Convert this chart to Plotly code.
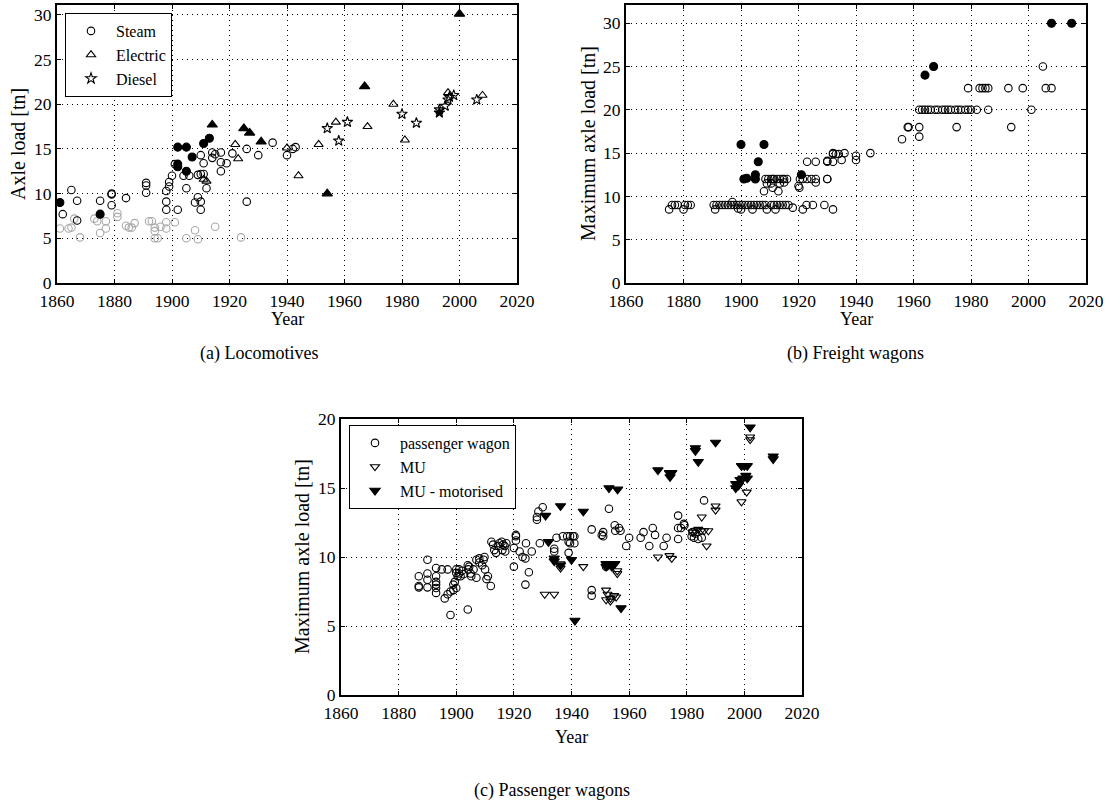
import plotly.graph_objects as go

# ---------------- (a) Locomotives ----------------
steam_year = [1862, 1865, 1867, 1867, 1875, 1879, 1879, 1879, 1884, 1891, 1891, 1891,
              1898, 1898, 1898, 1899, 1899, 1900, 1901, 1902, 1904, 1905, 1906, 1908,
              1909, 1910, 1910, 1909, 1910, 1911, 1910, 1911, 1912, 1914, 1914, 1915,
              1917, 1917, 1917, 1919, 1921, 1926, 1926, 1930, 1935, 1940, 1942, 1943]
steam_load = [7.7, 10.4, 9.2, 7.0, 9.2, 10.0, 9.9, 8.7, 9.5, 11.2, 10.9, 10.1,
              10.3, 9.1, 8.2, 10.8, 11.3, 12.0, 13.3, 8.2, 12.0, 10.6, 12.0, 9.0,
              9.6, 9.1, 8.2, 12.1, 12.2, 12.2, 14.3, 13.4, 10.6, 14.0, 14.6, 14.4,
              14.6, 13.5, 12.5, 13.4, 14.5, 15.0, 9.1, 14.3, 15.7, 14.3, 15.0, 15.2]

steam_grey_year = [1861, 1864, 1865, 1866, 1868, 1873, 1874, 1875, 1877, 1877, 1881, 1881,
                   1884, 1885, 1886, 1887, 1892, 1893, 1894, 1894, 1894, 1895, 1896, 1898,
                   1898, 1901, 1905, 1908, 1909, 1915, 1924]
steam_grey_load = [6.1, 6.1, 6.2, 7.2, 5.1, 7.2, 6.9, 5.6, 6.9, 6.1, 7.8, 7.4,
                   6.4, 6.2, 6.2, 6.7, 6.9, 6.9, 6.2, 5.8, 5.0, 5.0, 6.3, 6.8,
                   6.1, 6.8, 5.0, 5.9, 4.9, 6.3, 5.1]

steam_solid_year = [1861, 1875, 1902, 1902, 1902, 1905, 1907, 1905, 1911, 1913]
steam_solid_load = [9.0, 7.7, 15.2, 13.3, 13.0, 15.2, 14.1, 12.5, 15.6, 16.2]

electric_year = [1911, 1912, 1922, 1923, 1940, 1944, 1951, 1957, 1968, 1977, 1981, 1996, 2008]
electric_load = [11.6, 11.4, 15.5, 13.9, 15.1, 12.0, 15.5, 18.0, 17.5, 20.0, 16.0, 21.3, 21.0]

electric_solid_year = [1914, 1925, 1927, 1931, 1954, 1967, 2000]
electric_solid_load = [17.7, 17.3, 16.8, 15.8, 10.0, 22.0, 30.1]

diesel_year = [1954, 1958, 1961, 1980, 1985, 1993, 1995, 1996, 1996.5, 1998, 2006]
diesel_load = [17.3, 15.9, 18.0, 18.9, 17.9, 19.4, 19.8, 20.5, 20.8, 21.0, 20.5]

diesel_solid_year = [1993]
diesel_solid_load = [19.05]

# ---------------- (b) Freight wagons ----------------
freight_year = [
    1876, 1877, 1878, 1880.5, 1881.5, 1882.5, 1890.5, 1891.5, 1892.5, 1893.5, 1894.5,
    1895.5, 1896.5, 1897.5, 1898.5, 1899.5, 1900.5, 1901.5, 1902.5, 1903.5, 1904.5,
    1905.5, 1906.5, 1907.5, 1908.5, 1910.5, 1911.5, 1912.5, 1913.5, 1914.5, 1915.5,
    1916.5, 1922.8, 1925, 1929,
    1875, 1880, 1891, 1899, 1900, 1904, 1909, 1912, 1921.5, 1932, 1897, 1918,
    1908.5, 1909.5, 1910.5, 1911, 1911.5, 1912.5, 1913.5, 1914.5, 1915, 1916,
    1920.5, 1921.5, 1923, 1924.5, 1926, 1930,
    1909, 1910.5, 1913.5, 1915, 1926, 1908, 1911, 1913, 1920, 1920.3,
    1923, 1926, 1930, 1930, 1932, 1932, 1932, 1933, 1934, 1935, 1936, 1940, 1940, 1945,
    1930,
    1956, 1958, 1958.3, 1962, 1962,
    1962, 1963, 1964, 1965, 1966, 1967.5, 1968.5, 1970, 1971, 1972, 1973, 1974.5,
    1975.5, 1976.5, 1978, 1979, 1980, 1982, 1986, 2001,
    1975, 1994,
    1979, 1983, 1984, 1985, 1986, 1993, 1998, 2006, 2008, 2005]
freight_load = [
    9.0, 9.0, 9.0, 9.0, 9.0, 9.0, 9.0, 9.0, 9.0, 9.0, 9.0,
    9.0, 9.0, 9.0, 9.0, 9.0, 9.0, 9.0, 9.0, 9.0, 9.0,
    9.0, 9.0, 9.0, 9.0, 9.0, 9.0, 9.0, 9.0, 9.0, 9.0,
    9.0, 9.0, 9.0, 9.0,
    8.5, 8.5, 8.5, 8.6, 8.5, 8.5, 8.5, 8.5, 8.5, 8.5, 9.35, 8.7,
    12.0, 12.0, 12.0, 12.0, 12.0, 12.0, 12.0, 12.0, 12.0, 12.0,
    12.0, 12.0, 12.0, 12.0, 12.0, 12.0,
    11.5, 11.5, 11.5, 11.6, 11.6, 10.6, 11.0, 10.6, 11.2, 11.0,
    14.0, 14.0, 14.1, 14.0, 15.0, 14.9, 14.0, 14.9, 14.9, 14.2, 15.0, 14.7, 14.2, 15.0,
    12.0,
    16.6, 18.0, 18.0, 18.0, 16.9,
    20.0, 20.0, 20.0, 20.0, 20.0, 20.0, 20.0, 20.0, 20.0, 20.0, 20.0, 20.0,
    20.0, 20.0, 20.0, 20.0, 20.0, 20.0, 20.0, 20.0,
    18.0, 18.0,
    22.5, 22.5, 22.5, 22.5, 22.5, 22.5, 22.5, 22.5, 22.5, 25.0]

freight_solid_year = [1900, 1908, 1906, 1901, 1902, 1905, 1905, 1921, 1964, 1967, 2008, 2015]
freight_solid_load = [16.0, 16.0, 14.0, 12.0, 12.1, 12.5, 12.0, 12.5, 24.0, 25.0, 30.0, 30.0]

# ---------------- (c) Passenger wagons ----------------
pw_year = [
    1887, 1887, 1887, 1890, 1890, 1890, 1890, 1893, 1893, 1893, 1893, 1893, 1893,
    1895, 1897, 1896, 1897, 1898, 1899, 1900, 1898, 1899, 1899.5, 1900, 1900, 1900.5,
    1901, 1901, 1901.5, 1902, 1902.5, 1904, 1904, 1904.2, 1904.5, 1905, 1905.2, 1906,
    1907, 1908, 1908, 1909, 1909.5, 1909.8, 1910, 1907, 1911, 1910.5, 1912,
    1912.2, 1912.8, 1913.2, 1913.8, 1914.6, 1915, 1915.8, 1916, 1916.3, 1916.8, 1917,
    1917.4, 1920, 1920, 1920.7, 1920.7, 1920.7, 1922, 1923, 1924, 1924.2, 1925.2, 1924,
    1926.2, 1928, 1928, 1928.5, 1930, 1929, 1934.8, 1934, 1934, 1937, 1938.5, 1939.5,
    1940.5, 1941, 1939, 1939.5, 1941, 1939, 1947, 1951, 1950.5, 1951, 1952, 1947, 1947,
    1953, 1955, 1955.2, 1956.5, 1957, 1959, 1960, 1964, 1965, 1967, 1968.2, 1969, 1972,
    1973, 1977, 1977, 1977, 1978, 1979, 1979.2, 1981.7, 1982, 1982.5, 1983, 1984, 1986,
    1985.2]
pw_load = [
    8.6, 7.9, 7.8, 9.8, 8.8, 8.35, 7.8, 9.2, 8.6, 8.2, 8.0, 7.75, 7.4,
    9.1, 9.1, 7.0, 7.3, 7.5, 7.6, 7.75, 5.8, 8.0, 8.2, 9.1, 8.85, 8.6,
    9.1, 8.8, 8.6, 9.0, 8.75, 6.2, 9.4, 9.1, 9.3, 8.8, 8.6, 9.1,
    9.8, 9.9, 9.6, 9.4, 9.8, 10.0, 9.1, 8.5, 8.6, 8.4, 7.9,
    11.1, 10.9, 10.5, 10.3, 10.8, 11.0, 11.1, 10.5, 10.9, 10.8, 10.4,
    11.0, 10.65, 9.3, 11.6, 11.5, 11.2, 10.4, 10.0, 9.9, 11.0, 8.9, 8.0,
    10.4, 12.9, 12.7, 13.3, 13.6, 11.0, 11.4, 10.6, 10.4, 11.5, 11.5, 11.5,
    11.5, 11.5, 11.1, 11.0, 11.0, 10.3, 12.0, 11.8, 11.6, 11.5, 9.3, 7.6, 7.2,
    13.5, 12.3, 11.9, 12.1, 11.9, 10.8, 11.4, 11.4, 11.8, 10.8, 12.1, 11.6, 10.8,
    11.4, 13.0, 11.3, 12.1, 12.1, 12.4, 12.3, 11.5, 11.8, 11.4, 11.7, 11.3, 14.1,
    11.4]

mu_year = [1930.7, 1934, 1936.2, 1936.2, 1944.1, 1952, 1952.5, 1953.5, 1953.5, 1954.8,
           1955.5, 1952, 1955.9, 1955.9, 1970, 1974, 1974.8, 1982, 1983, 1984, 1985,
           1986, 1987.5, 1986.9, 1985.2, 1990, 1990, 1999, 2000.8, 2002, 2002]
mu_load = [7.3, 7.3, 9.5, 9.2, 9.3, 7.6, 7.3, 7.0, 6.8, 7.2,
           7.1, 6.9, 9.0, 8.8, 10.0, 10.1, 9.9, 11.8, 11.9, 12.0, 11.9,
           11.9, 11.9, 10.8, 12.9, 13.7, 13.4, 14.0, 14.7, 18.7, 18.5]

mu_motor_year = [1931, 1932, 1934, 1934, 1936.2, 1936.2, 1940, 1941.2, 1944.1, 1953,
                 1956, 1952, 1953, 1955, 1952, 1954, 1957.2, 1970, 1974, 1974.2,
                 1974.8, 1983, 1983, 1984, 1990, 1997, 1997, 1998, 1998.5, 1999,
                 1999.5, 2000, 2000.5, 2001, 2001, 2002, 2010, 2010]
mu_motor_load = [13.0, 11.1, 9.9, 9.7, 13.7, 9.4, 9.8, 5.4, 13.3, 15.0,
                 14.9, 9.5, 9.5, 9.5, 9.3, 9.3, 6.3, 16.3, 16.1, 15.8,
                 16.1, 17.9, 17.7, 16.9, 18.3, 15.0, 15.3, 15.2, 15.6, 16.6,
                 15.7, 16.6, 15.9, 15.7, 16.6, 19.4, 17.3, 17.1]

YEAR_TICKS = [1860, 1880, 1900, 1920, 1940, 1960, 1980, 2000, 2020]

SERIF = "Liberation Serif"
W, H = 1112, 807


def mk(x, y, xa, ya, symbol, size, color="black", fill=None, name=None,
       legend=None, lw=1.1):
    marker = dict(symbol=symbol, size=size, color=fill if fill else color,
                  line=dict(color=color, width=lw))
    return go.Scatter(x=x, y=y, mode="markers", marker=marker, xaxis=xa, yaxis=ya,
                      name=name or "", showlegend=name is not None,
                      legend=legend or "legend", hoverinfo="skip")


traces = [
    # (a)
    mk(steam_grey_year, steam_grey_load, "x", "y", "circle-open", 7.5, color="#a8a8a8"),
    mk(steam_year, steam_load, "x", "y", "circle-open", 7.5, name="Steam"),
    mk(electric_year, electric_load, "x", "y", "triangle-up-open", 8, name="Electric"),
    mk(diesel_year, diesel_load, "x", "y", "star-open", 8, name="Diesel"),
    mk(steam_solid_year, steam_solid_load, "x", "y", "circle", 8),
    mk(electric_solid_year, electric_solid_load, "x", "y", "triangle-up", 9),
    mk(diesel_solid_year, diesel_solid_load, "x", "y", "star", 8),
    # (b)
    mk(freight_year, freight_load, "x2", "y2", "circle-open", 7.5),
    mk(freight_solid_year, freight_solid_load, "x2", "y2", "circle", 8),
    # (c)
    mk(pw_year, pw_load, "x3", "y3", "circle-open", 7.5, name="passenger wagon",
       legend="legend2"),
    mk(mu_year, mu_load, "x3", "y3", "triangle-down-open", 8, name="MU",
       legend="legend2"),
    mk(mu_motor_year, mu_motor_load, "x3", "y3", "triangle-down", 9,
       name="MU - motorised", legend="legend2"),
]

fig = go.Figure(traces)

axis_common = dict(
    showline=True, linecolor="black", linewidth=1.8, mirror="ticks",
    ticks="inside", ticklen=4, tickwidth=1, tickcolor="black",
    showgrid=True, gridcolor="black", gridwidth=1, griddash="1px,4px",
    zeroline=False, automargin=False,
    tickfont=dict(family=SERIF, size=17.5, color="black"),
)
x_extra = dict(ticklabelstandoff=1)


def px_x(a, b):
    return [a / W, b / W]


def px_y(top, bottom):
    return [1 - bottom / H, 1 - top / H]


legend_style = dict(xanchor="left", yanchor="top", bordercolor="black",
                    borderwidth=1, bgcolor="white", itemwidth=40,
                    font=dict(family=SERIF, size=16, color="black"),
                    tracegroupgap=0)

fig.update_layout(
    template="none",
    xaxis=dict(axis_common, **x_extra, domain=px_x(57, 517), range=[1860, 2020],
               tickvals=YEAR_TICKS, anchor="y"),
    yaxis=dict(axis_common, domain=px_y(5, 283), range=[0, 31.1],
               tickvals=[0, 5, 10, 15, 20, 25, 30], anchor="x"),
    xaxis2=dict(axis_common, **x_extra, domain=px_x(626, 1086), range=[1860, 2020],
                tickvals=YEAR_TICKS, anchor="y2"),
    yaxis2=dict(axis_common, domain=px_y(5, 283), range=[0, 32.1],
                tickvals=[0, 5, 10, 15, 20, 25, 30], anchor="x2"),
    xaxis3=dict(axis_common, **x_extra, domain=px_x(341, 802), range=[1860, 2020],
                tickvals=YEAR_TICKS, anchor="y3"),
    yaxis3=dict(axis_common, domain=px_y(419, 695), range=[0, 20],
                tickvals=[0, 5, 10, 15, 20], anchor="x3"),
    width=W, height=H,
    margin=dict(l=0, r=0, t=0, b=0, pad=0, autoexpand=False),
    paper_bgcolor="white", plot_bgcolor="white",
    legend=dict(legend_style, x=65 / W, y=1 - 13 / H),
    legend2=dict(legend_style, x=349 / W, y=1 - 425 / H),
    showlegend=True,
)

ytitle_font = dict(family=SERIF, size=20, color="black")
xtitle_font = dict(family=SERIF, size=18, color="black")
cap_font = dict(family=SERIF, size=18, color="black")


def note(x, y, text, font, angle=0):
    fig.add_annotation(x=x / W, y=1 - y / H, xref="paper", yref="paper",
                       text=text, showarrow=False, font=font, textangle=angle,
                       xanchor="center", yanchor="middle")


note(287, 319, "Year", xtitle_font)
note(856, 319, "Year", xtitle_font)
note(571, 737, "Year", xtitle_font)
note(18, 144, "Axle load [tn]", ytitle_font, -90)
note(588, 144, "Maximum axle load [tn]", ytitle_font, -90)
note(302, 557, "Maximum axle load [tn]", ytitle_font, -90)
note(259, 353, "(a) Locomotives", cap_font)
note(855, 353, "(b) Freight wagons", cap_font)
note(552, 790, "(c) Passenger wagons", cap_font)

fig.write_html("out.html")
